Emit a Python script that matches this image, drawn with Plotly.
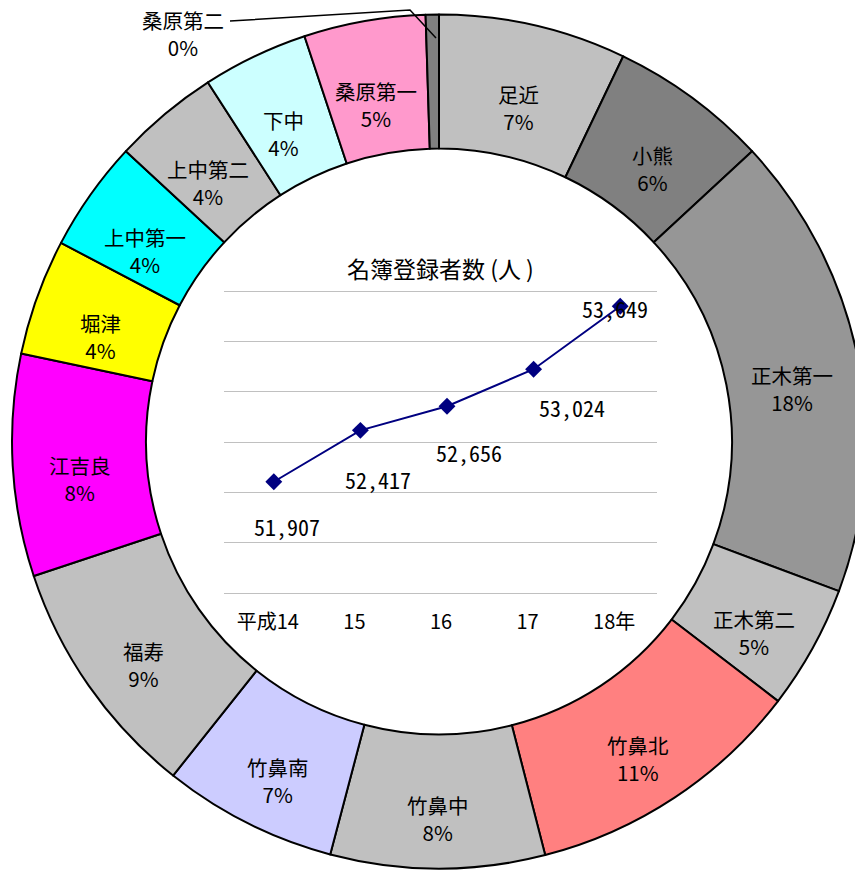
import math
import plotly.graph_objects as go

# ---- donut data ----
districts = ["足近", "小熊", "正木第一", "正木第二", "竹鼻北", "竹鼻中", "竹鼻南", "福寿",
             "江吉良", "堀津", "上中第一", "上中第二", "下中", "桑原第一", "桑原第二"]
shares = [7.1, 6.0, 17.6, 4.7, 10.6, 8.1, 6.6, 9.2, 8.4, 4.4, 4.2, 4.0, 4.0, 4.6, 0.5]
colors = ["#C0C0C0", "#808080", "#969696", "#C0C0C0", "#FF8080", "#C0C0C0", "#CCCCFF", "#C0C0C0",
          "#FF00FF", "#FFFF00", "#00FFFF", "#C0C0C0", "#CCFFFF", "#FF99CC", "#808080"]

# ---- line chart data ----
years = ["平成14", "15", "16", "17", "18年"]
voters = [51907, 52417, 52656, 53024, 53649]
label_dx = [13, 18, 22, 38, -5]
label_dy = [44, 49, 46, 38, 2]

W, H = 863, 872
OFF = 8  # page body margin


def px(x):
    return (x - OFF) / W


def py(y):
    return 1 - (y - OFF) / H


# donut geometry (page pixels)
CX, CY, R_OUT = 439, 441.5, 427
HOLE = 0.686
R_MID = R_OUT * (1 + HOLE) / 2

fig = go.Figure()

fig.add_trace(go.Pie(
    labels=districts, values=shares, sort=False, direction="clockwise", rotation=0,
    hole=HOLE,
    marker=dict(colors=colors, line=dict(color="black", width=2)),
    textinfo="none",
    domain=dict(x=[px(CX - R_OUT), px(CX + R_OUT)], y=[py(CY + R_OUT), py(CY - R_OUT)]),
    showlegend=False, hoverinfo="label+percent",
))

fig.add_trace(go.Scatter(
    x=years, y=voters, mode="lines+markers",
    line=dict(color="#000080", width=2),
    marker=dict(symbol="diamond", size=13, color="#000080"),
    xaxis="x", yaxis="y", showlegend=False,
))

annotations = []

# slice labels, placed from the cumulative shares
total = sum(shares)
cum = 0.0
for name, v in zip(districts, shares):
    mid = (cum + v / 2) / total * 2 * math.pi
    cum += v
    pct = int(v / total * 100 + 0.5)
    if v / total < 0.01:
        continue
    lx = CX + R_MID * math.sin(mid)
    ly = CY - R_MID * math.cos(mid)
    annotations.append(dict(
        x=px(lx), y=py(ly), xref="paper", yref="paper", xanchor="center", yanchor="middle",
        yshift=-17, text=f"{name}<br>{pct}%", showarrow=False,
        font=dict(family="Noto Sans CJK JP", size=20.5, color="black"),
    ))

for i, (yv, dx, dy) in enumerate(zip(voters, label_dx, label_dy)):
    annotations.append(dict(
        x=i, y=yv, xref="x", yref="y", text=f"{yv:,}", showarrow=False,
        xanchor="center", yanchor="middle",
        xshift=dx, yshift=-dy,
        font=dict(family="Noto Sans Mono CJK JP, DejaVu Sans Mono", size=22, color="black"),
    ))

# title of inner chart
annotations.append(dict(
    x=px(440), y=py(268), xref="paper", yref="paper", text="名簿登録者数 (人 )",
    xanchor="center", yanchor="middle",
    showarrow=False, font=dict(family="Noto Sans CJK JP", size=23, color="black"),
))
# outside label for the tiny slice
small_pct = int(shares[-1] / total * 100)
annotations.append(dict(
    x=px(183), y=py(34), xref="paper", yref="paper",
    xanchor="center", yanchor="middle",
    text=f"{districts[-1]}<br>{small_pct}%", showarrow=False,
    font=dict(family="Noto Sans CJK JP", size=20.5, color="black"),
))

shapes = [dict(
    type="path", xref="paper", yref="paper",
    path=f"M {px(230)} {py(21)} L {px(410)} {py(10)} L {px(436)} {py(38)}",
    line=dict(color="black", width=1.5),
)]

fig.update_layout(
    width=W, height=H,
    margin=dict(l=0, r=0, t=0, b=0),
    paper_bgcolor="white", plot_bgcolor="rgba(0,0,0,0)",
    xaxis=dict(domain=[px(224), px(657)], type="category", range=[-0.575, 4.425],
               showgrid=False, showline=False, zeroline=False, ticks="",
               ticklabelshift=-6, ticklabelstandoff=10,
               tickfont=dict(family="Noto Sans CJK JP", size=20, color="black")),
    yaxis=dict(domain=[py(598.34), py(285.96)], range=[50750, 53850],
               tick0=50800, dtick=500, showgrid=True, gridcolor="#C0C0C0", gridwidth=1,
               showticklabels=False, zeroline=False, showline=False),
    annotations=annotations, shapes=shapes,
)

fig.write_html("out.html")
